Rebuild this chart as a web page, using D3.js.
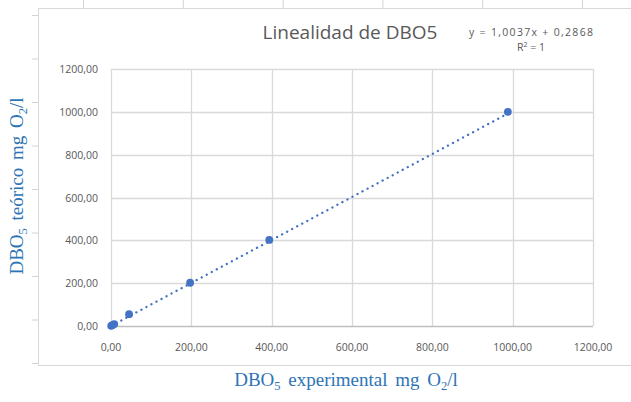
<!DOCTYPE html>
<meta charset="utf-8">
<script src="https://d3js.org/d3.v7.min.js"></script>
<style>
  body { margin: 0; background: #fff; }
</style>
<div id="my_dataviz"></div>
<script>

// data
var dboExperimental = [0.5, 3, 8, 45, 197, 394, 988];
var dboTeorico      = [1, 4, 9, 55, 202, 402, 1000];
var xTicks = [0, 200, 400, 600, 800, 1000, 1200];
var yTicks = [0, 200, 400, 600, 800, 1000, 1200];
// trendline as printed on the chart
var trendSlope = 1.0037;
var trendIntercept = 0.2868;

var width = 631, height = 402;
var margin = {top: 69, right: 38, bottom: 76, left: 111};
var sans = "'Open Sans', 'Noto Sans', sans-serif";

var svg = d3.select("#my_dataviz")
  .append("svg")
    .attr("width", width)
    .attr("height", height)
    .style("font-family", sans);

svg.append("rect").attr("width", width).attr("height", height).attr("fill", "#fff");

// spreadsheet cell lines peeking out behind the chart
svg.selectAll(".colTick")
  .data(d3.range(6))
  .enter().append("line")
    .attr("x1", function(d) { return 83.5 + d * 99.8; })
    .attr("x2", function(d) { return 83.5 + d * 99.8; })
    .attr("y1", 0).attr("y2", 8)
    .attr("stroke", "#d4d4d4");
svg.selectAll(".rowTick")
  .data(d3.range(9))
  .enter().append("line")
    .attr("y1", function(d) { return 15.5 + d * 43.5; })
    .attr("y2", function(d) { return 15.5 + d * 43.5; })
    .attr("x1", 32).attr("x2", 38)
    .attr("stroke", "#d4d4d4");

// chart frame
svg.append("rect")
  .attr("x", 38.5).attr("y", 8.5)
  .attr("width", 700).attr("height", 357)
  .attr("fill", "#fff")
  .attr("stroke", "#d9d9d9");

var x = d3.scaleLinear().domain([0, 1200]).range([margin.left, width - margin.right]);
var y = d3.scaleLinear().domain([0, 1200]).range([height - margin.bottom, margin.top]);

var fmt = function(v) { return d3.format(".2f")(v).replace(".", ","); };

// gridlines
svg.selectAll(".vgrid")
  .data(xTicks)
  .enter().append("line")
    .attr("x1", function(d) { return Math.round(x(d)) + 0.5; })
    .attr("x2", function(d) { return Math.round(x(d)) + 0.5; })
    .attr("y1", y(1200)).attr("y2", y(0))
    .attr("stroke", "#d9d9d9").attr("stroke-width", 1.3);
svg.selectAll(".hgrid")
  .data(yTicks)
  .enter().append("line")
    .attr("y1", function(d) { return Math.round(y(d)) + 0.5; })
    .attr("y2", function(d) { return Math.round(y(d)) + 0.5; })
    .attr("x1", x(0)).attr("x2", x(1200))
    .attr("stroke", function(d) { return d === 0 ? "#bfbfbf" : "#d9d9d9"; })
    .attr("stroke-width", 1.3);

// tick labels
svg.selectAll(".xlab")
  .data(xTicks)
  .enter().append("text")
    .attr("x", function(d) { return x(d); })
    .attr("y", y(0) + 25)
    .attr("text-anchor", "middle")
    .attr("font-size", 10.5)
    .attr("fill", "#595959")
    .text(fmt);
svg.selectAll(".ylab")
  .data(yTicks)
  .enter().append("text")
    .attr("x", x(0) - 13)
    .attr("y", function(d) { return y(d) + 4; })
    .attr("text-anchor", "end")
    .attr("font-size", 10.5)
    .attr("fill", "#595959")
    .text(fmt);

// trendline (dotted)
var xMin = d3.min(dboExperimental), xMax = d3.max(dboExperimental);
svg.append("line")
  .attr("x1", x(xMin)).attr("y1", y(trendSlope * xMin + trendIntercept))
  .attr("x2", x(xMax)).attr("y2", y(trendSlope * xMax + trendIntercept))
  .attr("stroke", "#4472c4")
  .attr("stroke-width", 2.3)
  .attr("stroke-linecap", "round")
  .attr("stroke-dasharray", "0.1,5.6");

// points
svg.selectAll("circle")
  .data(dboExperimental)
  .enter().append("circle")
    .attr("cx", function(d) { return x(d); })
    .attr("cy", function(d, i) { return y(dboTeorico[i]); })
    .attr("r", 3.9)
    .attr("fill", "#4472c4");

// title and equation
svg.append("text")
  .attr("x", 350).attr("y", 39)
  .attr("text-anchor", "middle")
  .attr("font-size", 19)
  .attr("fill", "#595959")
  .text("Linealidad de DBO5");
svg.append("text")
  .attr("x", 531).attr("y", 36)
  .attr("text-anchor", "middle")
  .attr("font-size", 10.5)
  .attr("fill", "#595959")
  .attr("textLength", 124)
  .text("y = 1,0037x + 0,2868");
var r2 = svg.append("text")
  .attr("x", 531).attr("y", 51)
  .attr("text-anchor", "middle")
  .attr("font-size", 10.5)
  .attr("fill", "#595959");
r2.append("tspan").text("R");
r2.append("tspan").attr("dy", -4).attr("font-size", 7).text("2");
r2.append("tspan").attr("dy", 4).text(" = 1");

// axis titles
function axisTitle(g) {
  g.style("font-family", "'Liberation Serif', 'Times New Roman', serif")
   .style("word-spacing", "3px")
   .attr("font-size", 19)
   .attr("fill", "#2e74b5");
}
var xt = svg.append("text")
  .attr("x", 346).attr("y", 386)
  .attr("text-anchor", "middle")
  .call(axisTitle);
xt.append("tspan").text("DBO");
xt.append("tspan").attr("dy", 4).attr("font-size", 12.5).text("5");
xt.append("tspan").attr("dy", -4).text(" experimental  mg O");
xt.append("tspan").attr("dy", 4).attr("font-size", 12.5).text("2");
xt.append("tspan").attr("dy", -4).text("/l");

var yt = svg.append("text")
  .attr("transform", "translate(23,186) rotate(-90)")
  .attr("text-anchor", "middle")
  .call(axisTitle);
yt.append("tspan").text("DBO");
yt.append("tspan").attr("dy", 4).attr("font-size", 12.5).text("5");
yt.append("tspan").attr("dy", -4).text("  teórico  mg O");
yt.append("tspan").attr("dy", 4).attr("font-size", 12.5).text("2");
yt.append("tspan").attr("dy", -4).text("/l");

</script>
